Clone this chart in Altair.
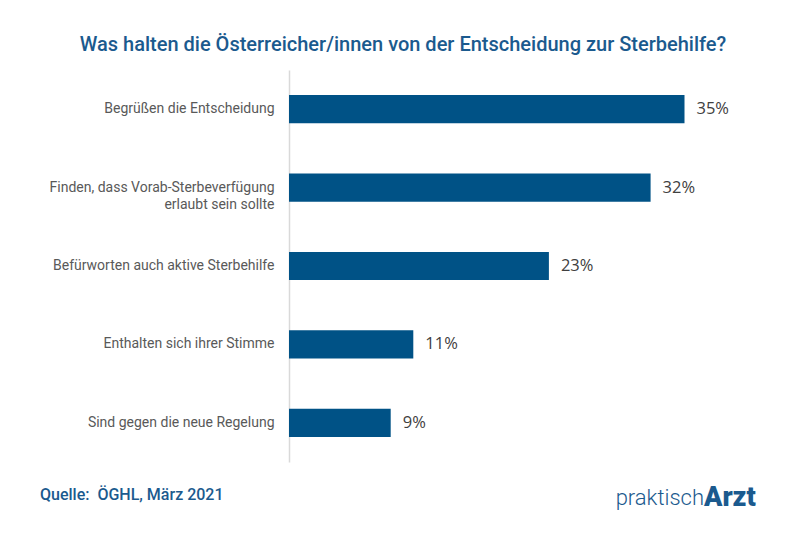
import altair as alt
import pandas as pd

categories = [
    "Begrüßen die Entscheidung",
    "Finden, dass Vorab-Sterbeverfügung|erlaubt sein sollte",
    "Befürworten auch aktive Sterbehilfe",
    "Enthalten sich ihrer Stimme",
    "Sind gegen die neue Regelung",
]
values = [35, 32, 23, 11, 9]
value_labels = ["35%", "32%", "23%", "11%", "9%"]

df = pd.DataFrame({"cat": categories, "val": values, "lab": value_labels})

BLUE = "#005286"
TITLE_BLUE = "#1b5a8e"
PAD = "\u00a0" * 16

y_enc = alt.Y(
    "cat:N",
    sort=categories,
    scale=alt.Scale(paddingInner=0.64, paddingOuter=0.32),
    axis=alt.Axis(
        title=None,
        ticks=False,
        domainColor="#d9d9d9",
        domainWidth=1.5,
        labelFont="Roboto",
        labelFontSize=14,
        labelColor="#595959",
        labelPadding=15,
        labelLineHeight=17,
        labelLimit=300,
        labelExpr="indexof(datum.label,'|')>=0 ? [split(datum.label,'|')[0], split(datum.label,'|')[1] + '" + PAD + "'] : datum.label",
    ),
)
x_enc = alt.X("val:Q", scale=alt.Scale(domain=[0, 40]), axis=None)

bars = alt.Chart(df).mark_bar(color=BLUE).encode(x=x_enc, y=y_enc)
labels = alt.Chart(df).mark_text(
    align="left", baseline="middle", dx=12, font="Open Sans", fontSize=16.5, color="#404040"
).encode(x=x_enc, y=y_enc, text="lab:N")

title_df = pd.DataFrame({"t": ["Was halten die Österreicher/innen von der Entscheidung zur Sterbehilfe?"]})
title = alt.Chart(title_df).mark_text(
    align="center", baseline="middle", font="Roboto", fontSize=20, fontWeight=500, color=TITLE_BLUE
).encode(x=alt.value(114), y=alt.value(-25), text="t:N")

src_df = pd.DataFrame({"t": ["Quelle:\u00a0\u00a0ÖGHL, März 2021"]})
source = alt.Chart(src_df).mark_text(
    align="left", baseline="middle", font="Roboto", fontSize=16, fontWeight=500, color=TITLE_BLUE
).encode(x=alt.value(-249), y=alt.value(425), text="t:N")

logo1_df = pd.DataFrame({"t": ["praktisch"]})
logo1 = alt.Chart(logo1_df).mark_text(
    align="right", baseline="middle", font="Roboto", fontWeight=300, fontSize=22, color=TITLE_BLUE
).encode(x=alt.value(415), y=alt.value(428), text="t:N")
logo2_df = pd.DataFrame({"t": ["Arzt"]})
logo2 = alt.Chart(logo2_df).mark_text(
    align="left", baseline="middle", font="Roboto", fontWeight=900, fontSize=27, color=TITLE_BLUE
).encode(x=alt.value(415), y=alt.value(428), text="t:N")

chart = alt.layer(bars, labels, title, source, logo1, logo2).properties(
    width=452,
    height=392,
    padding={"left": 281, "top": 62, "right": 51, "bottom": 63},
    autosize=alt.AutoSizeParams(type="none"),
).configure_view(stroke=None)

chart.save("out.html", embed_options={"renderer": "svg", "actions": False})
